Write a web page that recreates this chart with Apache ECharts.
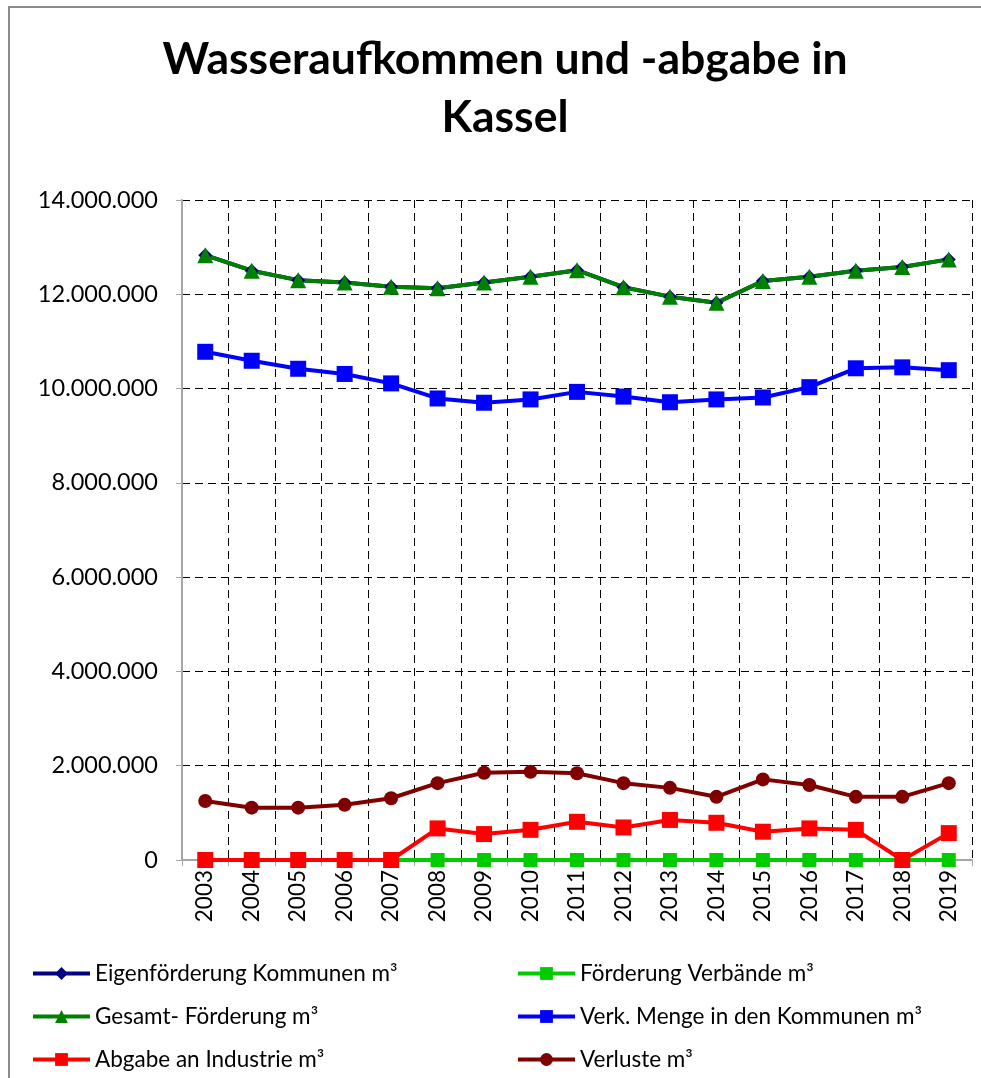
<!DOCTYPE html>
<html>
<head>
<meta charset="utf-8">
<script src="https://cdn.jsdelivr.net/npm/echarts@6/dist/echarts.min.js"></script>
<style>
  html, body { margin: 0; padding: 0; background: #fff; }
  #frame { position: absolute; left: 8px; top: 6px; width: 1000px; height: 1100px;
           border-left: 2px solid #8c8c8c; border-top: 2px solid #8c8c8c; }
  #chart { position: absolute; left: 0; top: 0; width: 981px; height: 1078px; }
</style>
</head>
<body>
<div id="frame"></div>
<div id="chart"></div>
<script>
var years = ['2003', '2004', '2005', '2006', '2007', '2008', '2009', '2010', '2011',
  '2012', '2013', '2014', '2015', '2016', '2017', '2018', '2019']

var eigenfoerderung = [12830000, 12500000, 12300000, 12250000, 12160000, 12130000, 12250000, 12370000, 12510000,
  12150000, 11950000, 11820000, 12280000, 12370000, 12500000, 12580000, 12740000]
var foerderungVerbaende = [0, 0, 0, 0, 0, 0, 0, 0, 0, 0, 0, 0, 0, 0, 0, 0, 0]
var gesamtFoerderung = [12830000, 12500000, 12300000, 12250000, 12160000, 12130000, 12250000, 12370000, 12510000,
  12150000, 11950000, 11820000, 12280000, 12370000, 12500000, 12580000, 12740000]
var verkMenge = [10780000, 10590000, 10420000, 10310000, 10110000, 9790000, 9700000, 9770000, 9930000,
  9830000, 9710000, 9770000, 9810000, 10030000, 10430000, 10450000, 10390000]
var abgabeIndustrie = [0, 0, 0, 0, 0, 670000, 550000, 640000, 810000,
  690000, 850000, 790000, 600000, 670000, 640000, 0, 570000]
var verluste = [1250000, 1110000, 1110000, 1170000, 1310000, 1630000, 1850000, 1870000, 1840000,
  1630000, 1530000, 1340000, 1710000, 1590000, 1340000, 1340000, 1630000]

var yTicks = ['0', '2.000.000', '4.000.000', '6.000.000', '8.000.000', '10.000.000', '12.000.000', '14.000.000']

var font = 'Lato, "Open Sans", sans-serif'

function line (name, data, color, symbol, size) {
  return {
    name: name,
    type: 'line',
    data: data,
    symbol: symbol,
    symbolSize: size,
    showAllSymbol: true,
    animation: false,
    itemStyle: { color: color },
    lineStyle: { color: color, width: 4 }
  }
}

var legendText = { fontFamily: font, fontSize: 22.5, color: '#000' }

var chart = echarts.init(document.getElementById('chart'))

chart.setOption({
  backgroundColor: 'transparent',
  title: {
    text: 'Wasseraufkommen und -abgabe in\nKassel',
    left: 505,
    top: 31,
    textAlign: 'center',
    padding: 0,
    textStyle: { fontFamily: font, fontWeight: 'bold', fontSize: 44.5, color: '#000', lineHeight: 58 }
  },
  legend: [{
    orient: 'vertical',
    left: 26,
    top: 957,
    itemGap: 20,
    itemWidth: 57,
    itemHeight: 16,
    lineStyle: { width: 4 },
    textStyle: legendText,
    data: ['Eigenförderung Kommunen m³', 'Gesamt- Förderung m³', 'Abgabe an Industrie m³']
  }, {
    orient: 'vertical',
    left: 511,
    top: 957,
    itemGap: 20,
    itemWidth: 57,
    itemHeight: 16,
    lineStyle: { width: 4 },
    textStyle: legendText,
    data: ['Förderung Verbände m³', 'Verk. Menge in den Kommunen m³', 'Verluste m³']
  }],
  grid: { left: 182, right: 9, top: 200, bottom: 218, containLabel: false },
  xAxis: {
    type: 'category',
    data: years,
    boundaryGap: true,
    axisLine: { lineStyle: { color: '#a6a6a6', width: 2 } },
    axisTick: { show: true, length: 6, lineStyle: { color: '#a6a6a6' } },
    axisLabel: { rotate: 90, fontFamily: font, fontSize: 22.5, color: '#000', margin: 10 },
    splitLine: { show: true, lineStyle: { color: '#000', type: [8, 5], width: 1 } }
  },
  yAxis: {
    type: 'value',
    min: 0,
    max: 14000000,
    interval: 2000000,
    axisLine: { show: true, lineStyle: { color: '#a6a6a6', width: 2 } },
    axisTick: { show: true, length: 6, lineStyle: { color: '#a6a6a6' } },
    axisLabel: {
      fontFamily: font, fontSize: 23.5, color: '#000', margin: 24,
      formatter: function (v) { return yTicks[Math.round(v / 2000000)] }
    },
    splitLine: { show: true, lineStyle: { color: '#000', type: [8, 5], width: 1 } }
  },
  series: [
    line('Eigenförderung Kommunen m³', eigenfoerderung, '#000080', 'diamond', 14),
    line('Förderung Verbände m³', foerderungVerbaende, '#00cc00', 'rect', 14),
    line('Gesamt- Förderung m³', gesamtFoerderung, '#008000', 'triangle', 16),
    line('Verk. Menge in den Kommunen m³', verkMenge, '#0000ff', 'rect', 16),
    line('Abgabe an Industrie m³', abgabeIndustrie, '#ff0000', 'rect', 16),
    line('Verluste m³', verluste, '#800000', 'circle', 14)
  ]
})
</script>
</body>
</html>
